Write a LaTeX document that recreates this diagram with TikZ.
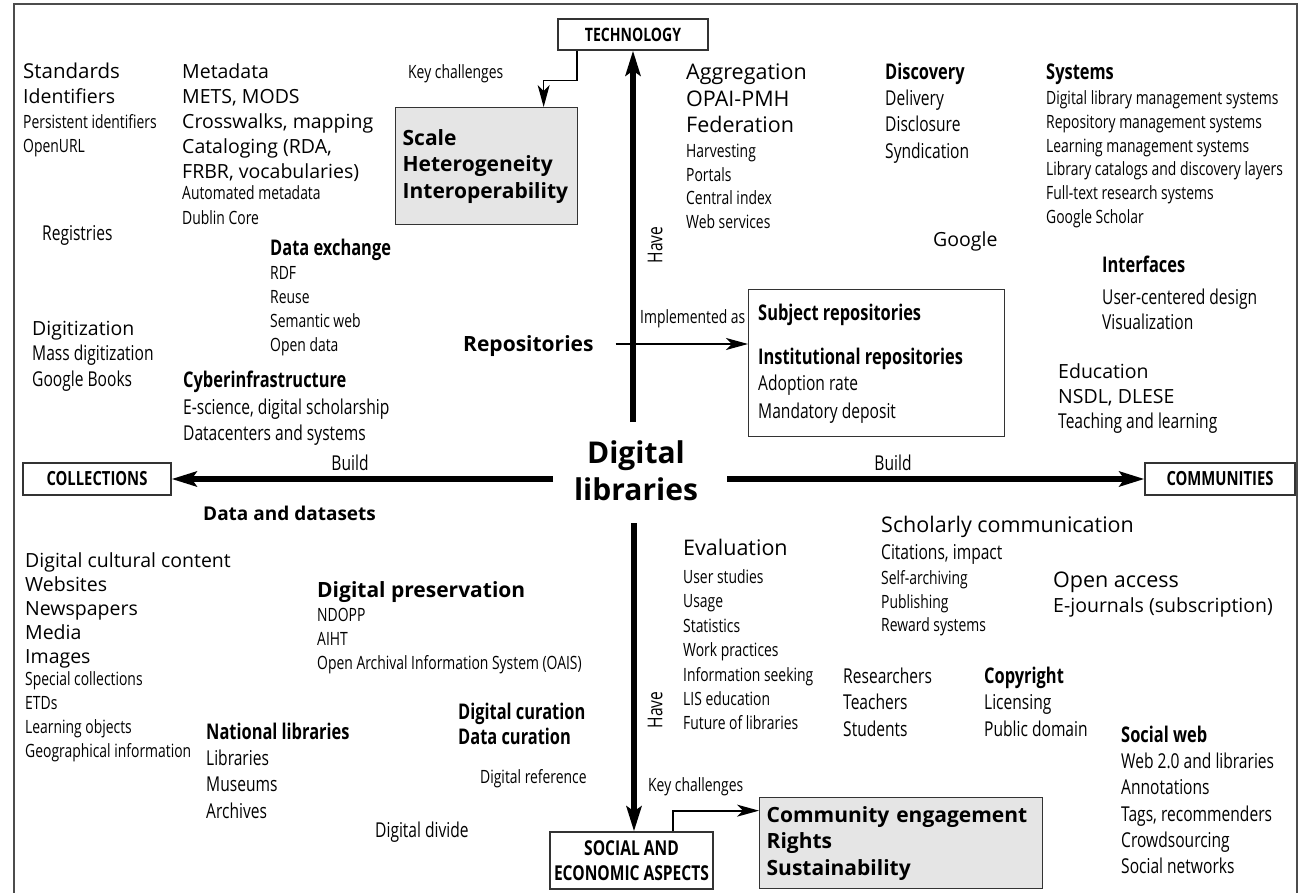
\documentclass[tikz,border=0pt]{standalone}
\usepackage{fontspec}
\setmainfont{Open Sans}
\newfontfamily\condfont[FakeStretch=0.76]{Open Sans}
\usetikzlibrary{arrows.meta}

\tikzset{
  txt/.style={anchor=west, inner sep=0pt, text depth=0pt},
  wd/.style={txt, font=\fontsize{19.5}{24}\selectfont, text height=14pt},
  wdl/.style={txt, font=\fontsize{21.5}{26}\selectfont, text height=15.4pt},
  wb/.style={txt, font=\bfseries\fontsize{21}{26}\selectfont, text height=15pt},
  cs/.style={txt, font=\condfont\fontsize{18.3}{22}\selectfont, text height=13.1pt},
  cl/.style={txt, font=\condfont\fontsize{20.5}{24}\selectfont, text height=14.6pt},
  cb/.style={txt, font=\condfont\bfseries\fontsize{21.6}{25}\selectfont, text height=15.4pt},
  aspect/.style={draw=black!80, line width=1.3pt, fill=white, inner sep=0pt, align=center,
    font=\condfont\bfseries\fontsize{19.5}{25}\selectfont},
  challenge/.style={draw=black!80, line width=1.3pt, fill=black!10, inner sep=7pt,
    anchor=north west, align=left, font=\bfseries\fontsize{21}{26.5}\selectfont},
  buildarrow/.style={line width=5.5pt, -{Stealth[length=25pt,width=15pt,inset=5pt]}},
  thinarrow/.style={line width=1.3pt, -{Stealth[length=22pt,width=12pt,inset=6pt]}},
}

\begin{document}
\begin{tikzpicture}[x=1pt, y=-1pt]
    \useasboundingbox (0,0) rectangle (1306,893);
    \draw[line width=1.5pt, black!70] (14,893) -- (14,4) -- (1297,4) -- (1297,893);

    % the four aspects round the hub
    \node[aspect, minimum width=150pt, minimum height=31pt,
      font=\condfont\bfseries\fontsize{18.5}{20}\selectfont] (tech) at (633,34.5) {TECHNOLOGY};
    \node[aspect, minimum width=148pt, minimum height=32pt] (coll) at (97,479) {COLLECTIONS};
    \node[aspect, minimum width=150pt, minimum height=32pt] (comm) at (1220,479) {COMMUNITIES};
    \node[aspect, minimum width=163pt, minimum height=57pt,
      font=\condfont\bfseries\fontsize{20.5}{25}\selectfont] (social) at (631.5,860.5) {SOCIAL AND\\ECONOMIC ASPECTS};

    \node[font=\bfseries\fontsize{30}{37}\selectfont, align=center, inner sep=0pt] (dl) at (636,471) {Digital\\libraries};
    \coordinate (hubN) at (633,422);
    \coordinate (hubS) at (634,523);
    \coordinate (hubW) at (553,479);
    \coordinate (hubE) at (727,479);
    \draw[buildarrow] (hubN) -- (tech.south);
    \draw[buildarrow] (hubS) -- (hubS |- social.north);
    \draw[buildarrow] (hubW) -- (coll.east);
    \draw[buildarrow] (hubE) -- (comm.west);
    \node[cl, anchor=center] (build-l) at (350,463) {Build};
    \node[cl, anchor=center] (build-r) at (893,463) {Build};
    \node[cl, anchor=center, rotate=90] (have-t) at (655,245) {Have};
    \node[cl, anchor=center, rotate=90] (have-s) at (655,710) {Have};

    % key challenges
    \node[cs] (kc-t) at (408,72) {Key challenges};
    \node[challenge, minimum height=117pt, text width=168pt] (scale) at (395,107) {Scale\\Heterogeneity\\Interoperability};
    \draw[thinarrow] ([xshift=-56pt]tech.south) -- ++(0,30) -| ([xshift=57pt]scale.north);
    \node[cs] (kc-s) at (648,785) {Key challenges};
    \node[challenge, minimum height=91pt, text width=269pt] (engage) at (759,797) {Community engagement\\Rights\\Sustainability};
    \draw[thinarrow, line width=2pt] ([xshift=41.5pt]social.north) |- ([yshift=32.5pt]engage.west);

    % repositories
    \node[wb] (repos) at (463,344) {Repositories};
    \node[draw=black!80, line width=1.3pt, inner sep=0pt, minimum width=256pt, minimum height=147pt,
      anchor=north west] (repbox) at (748,289) {};
    \draw[thinarrow] ([xshift=22pt]repos.east) -- (repos -| repbox.west);
    \node[cs] (impl) at (640,317) {Implemented as};
    \node[cb] (subj) at (758,313) {Subject repositories};
    \node[cb] (inst) at (758,357) {Institutional repositories};
    \node[cl] (inst-1) at (758,383) {Adoption rate};
    \node[cl] (inst-2) at (758,411) {Mandatory deposit};

    % technology side
    \node[wd, font=\fontsize{20.5}{24}\selectfont] (std) at (23,72) {Standards};
    \node[wd] (ident) at (23,97) {Identifiers};
    \foreach \t [count=\i] in {Persistent identifiers, OpenURL}
        \node[cs] (ident-\i) at (23,{122+24*(\i-1)}) {\t};
    \node[cl] (regis) at (42,233) {Registries};
    \foreach \t [count=\i] in {Metadata, {METS, MODS}, {Crosswalks, mapping}, {Cataloging (RDA,}, {FRBR, vocabularies)}}
        \node[wd] (meta-\i) at (182,{72+25*(\i-1)}) {\t};
    \foreach \t [count=\i] in {Automated metadata, Dublin Core}
        \node[cs] (meta-x\i) at (182,{193+25*(\i-1)}) {\t};
    \node[cb] (dx) at (270,248) {Data exchange};
    \foreach \t [count=\i] in {RDF, Reuse, Semantic web, Open data}
        \node[cs] (dx-\i) at (270,{273+24*(\i-1)}) {\t};
    \foreach \t [count=\i] in {Aggregation, OPAI-PMH, Federation}
        \node[wdl] (agg-\i) at (686,{72+26.5*(\i-1)}) {\t};
    \foreach \t [count=\i] in {Harvesting, Portals, Central index, Web services}
        \node[cs] (agg-x\i) at (686,{151+23.7*(\i-1)}) {\t};
    \node[cb] (disc) at (885,72) {Discovery};
    \foreach \t [count=\i] in {Delivery, Disclosure, Syndication}
        \node[cl] (disc-\i) at (885,{98+26.5*(\i-1)}) {\t};
    \node[cb] (sys) at (1046,72) {Systems};
    \foreach \t [count=\i] in {Digital library management systems, Repository management systems,
      Learning management systems, Library catalogs and discovery layers, Full-text research systems, Google Scholar}
        \node[cs] (sys-\i) at (1046,{98+23.8*(\i-1)}) {\t};
    \node[wd] (google) at (933,240) {Google};
    \node[cb] (intf) at (1102,265) {Interfaces};
    \foreach \t [count=\i] in {User-centered design, Visualization}
        \node[cl] (intf-\i) at (1102,{297+25*(\i-1)}) {\t};
    \node[wd] (edu) at (1058,371) {Education};
    \node[wd] (edu-1) at (1058,396) {NSDL, DLESE};
    \node[cl] (edu-2) at (1058,421) {Teaching and learning};
    \node[wd] (digit) at (32,328) {Digitization};
    \node[cl] (digit-1) at (32,353.5) {Mass digitization};
    \node[cl] (digit-2) at (32,379) {Google Books};
    \node[cb] (cyber) at (183,380) {Cyberinfrastructure};
    \foreach \t [count=\i] in {{E-science, digital scholarship}, Datacenters and systems}
        \node[cl] (cyber-\i) at (183,{407+26*(\i-1)}) {\t};

    % collections side
    \node[wb, font=\bfseries\fontsize{19}{24}\selectfont] (data) at (203,513) {Data and datasets};
    \foreach \t [count=\i] in {Digital cultural content, Websites, Newspapers, Media, Images}
        \node[wd] (cont-\i) at (25,{560+24*(\i-1)}) {\t};
    \foreach \t [count=\i] in {Special collections, ETDs, Learning objects, Geographical information}
        \node[cs] (cont-x\i) at (25,{679+24*(\i-1)}) {\t};
    \node[wb] (pres) at (317,590) {Digital preservation};
    \foreach \t [count=\i] in {NDOPP, AIHT, Open Archival Information System (OAIS)}
        \node[cs] (pres-\i) at (317,{615+24*(\i-1)}) {\t};
    \node[cb] (natl) at (206,732) {National libraries};
    \foreach \t [count=\i] in {Libraries, Museums, Archives}
        \node[cl] (natl-\i) at (206,{758+26.5*(\i-1)}) {\t};
    \node[cb] (cur-1) at (458,712) {Digital curation};
    \node[cb] (cur-2) at (458,737) {Data curation};
    \node[cs] (dref) at (480,777) {Digital reference};
    \node[cl] (divide) at (375,830) {Digital divide};

    % communities side
    \node[wdl] (eval) at (683,548) {Evaluation};
    \foreach \t [count=\i] in {User studies, Usage, Statistics, Work practices, Information seeking, LIS education, Future of libraries}
        \node[cs] (eval-\i) at (683,{577+24.4*(\i-1)}) {\t};
    \node[wdl] (schol) at (881,525) {Scholarly communication};
    \node[cl] (schol-1) at (881,552) {Citations, impact};
    \foreach \t [count=\i] in {Self-archiving, Publishing, Reward systems}
        \node[cs] (schol-x\i) at (881,{578+23.5*(\i-1)}) {\t};
    \node[wdl] (oa) at (1053,580) {Open access};
    \node[wd] (oa-1) at (1053,605) {E-journals (subscription)};
    \foreach \t [count=\i] in {Researchers, Teachers, Students}
        \node[cl] (ppl-\i) at (843,{676+26.5*(\i-1)}) {\t};
    \node[cb] (copy) at (984,676) {Copyright};
    \foreach \t [count=\i] in {Licensing, Public domain}
        \node[cl] (copy-\i) at (984,{702.5+26.5*(\i-1)}) {\t};
    \node[cb] (sweb) at (1121,735) {Social web};
    \foreach \t [count=\i] in {Web 2.0 and libraries, Annotations, {Tags, recommenders}, Crowdsourcing, Social networks}
        \node[cl] (sweb-\i) at (1121,{761+26.4*(\i-1)}) {\t};
\end{tikzpicture}
\end{document}
